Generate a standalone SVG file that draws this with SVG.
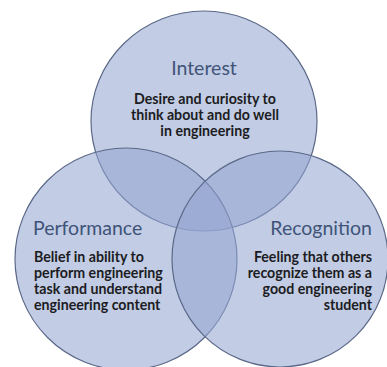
<svg xmlns="http://www.w3.org/2000/svg" width="387" height="367" viewBox="0 0 387 367">
<style>
.c{fill:#94a6d2;fill-opacity:.57;stroke:#5b6988;stroke-width:1.2}
.t{font-family:Lato,"Open Sans",sans-serif;font-size:19.5px;fill:#3f5478}
.b{font-family:Lato,"Open Sans",sans-serif;font-size:14.2px;font-weight:bold;fill:#1c1c22}
.m{text-anchor:middle}.e{text-anchor:end}
</style>
<rect width="387" height="367" fill="#ffffff"/>
<g id="interest">
<ellipse class="c" cx="204" cy="121" rx="113" ry="110"/>
<text class="t m" x="204" y="75">Interest</text>
<text class="b m" x="205" y="104">Desire and curiosity to</text>
<text class="b m" x="205" y="120">think about and do well</text>
<text class="b m" x="205" y="136">in engineering</text>
</g>
<g id="performance">
<circle class="c" cx="126" cy="259" r="111"/>
<text class="t" x="33" y="235">Performance</text>
<text class="b" x="34" y="262">Belief in ability to</text>
<text class="b" x="34" y="278">perform engineering</text>
<text class="b" x="34" y="294">task and understand</text>
<text class="b" x="34" y="310">engineering content</text>
</g>
<g id="recognition">
<circle class="c" cx="280" cy="259" r="108"/>
<text class="t e" x="372" y="235">Recognition</text>
<text class="b e" x="372" y="262">Feeling that others</text>
<text class="b e" x="372" y="278">recognize them as a</text>
<text class="b e" x="372" y="294">good engineering</text>
<text class="b e" x="372" y="310">student</text>
</g>
<g id="connectors"/>
</svg>
